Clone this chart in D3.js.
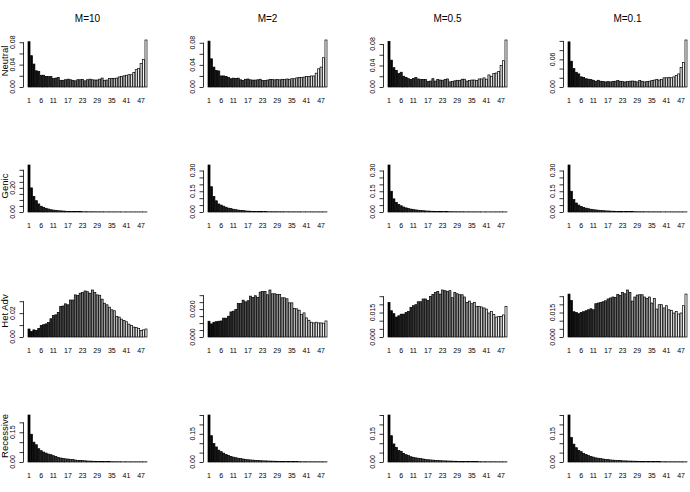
<!DOCTYPE html>
<html>
<head>
<meta charset="utf-8">
<script src="https://cdn.jsdelivr.net/npm/d3@7"></script>
<style>
body { margin: 0; background: #fff; }
text { font-family: "Liberation Sans", Arial, sans-serif; fill: #000; }
</style>
</head>
<body>
<div class="content"></div>
<script>
// column titles and row labels
const migration = ['M=10', 'M=2', 'M=0.5', 'M=0.1']
const models = ['Neutral', 'Genic', 'Het Adv', 'Recessive']
const xLabels = [1, 6, 11, 17, 23, 29, 35, 41, 47]

// site frequency spectra, 49 bins each
const neutral10 = [0.081,0.056,0.041,0.029,0.028,0.021,0.021,0.019,0.0185,0.0185,0.015,0.016,0.017,0.012,0.012,0.013,0.014,0.013,0.012,0.011,0.013,0.013,0.0135,0.011,0.013,0.014,0.013,0.0125,0.0125,0.014,0.016,0.012,0.0125,0.015,0.0155,0.0155,0.016,0.018,0.019,0.020,0.021,0.022,0.022,0.026,0.031,0.033,0.042,0.049,0.084]
const neutral2 = [0.083,0.051,0.036,0.030,0.029,0.020,0.020,0.019,0.0175,0.015,0.016,0.0155,0.016,0.013,0.012,0.014,0.0145,0.013,0.0125,0.0125,0.013,0.014,0.012,0.0115,0.0125,0.0135,0.0135,0.013,0.0135,0.013,0.014,0.0135,0.0145,0.014,0.015,0.015,0.0165,0.017,0.0175,0.018,0.019,0.019,0.020,0.020,0.025,0.033,0.036,0.053,0.085]
const neutral05 = [0.085,0.050,0.036,0.031,0.025,0.0275,0.020,0.018,0.0155,0.014,0.016,0.0175,0.015,0.014,0.014,0.014,0.010,0.011,0.0155,0.011,0.014,0.013,0.0125,0.014,0.015,0.0095,0.010,0.0115,0.0125,0.012,0.0145,0.0145,0.011,0.012,0.013,0.013,0.012,0.015,0.015,0.017,0.0145,0.0225,0.020,0.025,0.026,0.029,0.040,0.049,0.0875]
const neutral01 = [0.098,0.056,0.040,0.032,0.0285,0.022,0.021,0.018,0.017,0.016,0.0146,0.0125,0.0146,0.0125,0.0117,0.011,0.0117,0.011,0.0117,0.0125,0.0139,0.0125,0.0117,0.011,0.0117,0.0125,0.013,0.0125,0.011,0.0139,0.0125,0.011,0.0117,0.0125,0.0139,0.015,0.016,0.015,0.016,0.020,0.020,0.021,0.020,0.022,0.025,0.0285,0.042,0.053,0.102]

const genic10 = [0.39,0.20,0.13,0.094,0.067,0.048,0.039,0.031,0.025,0.019,0.016,0.014,0.011,0.0095,0.008,0.0065,0.0055,0.0048,0.0042,0.0037,0.0033,0.003,0.0027,0.0024,0.0022,0.002,0.0018,0.0017,0.0016,0.0015,0.0014,0.0013,0.0012,0.0012,0.0011,0.0011,0.001,0.001,0.0009,0.0009,0.0009,0.0008,0.0008,0.0008,0.0008,0.0007,0.0007,0.0007,0.0007]
const genic2 = [0.34,0.183,0.112,0.081,0.058,0.05,0.042,0.035,0.028,0.025,0.02,0.017,0.014,0.012,0.010,0.008,0.0065,0.0055,0.0048,0.0042,0.0037,0.0033,0.003,0.0027,0.0025,0.0023,0.0021,0.002,0.0019,0.0018,0.0017,0.0016,0.0015,0.0014,0.0014,0.0013,0.0013,0.0012,0.0012,0.0012,0.0011,0.0011,0.0011,0.001,0.001,0.001,0.001,0.001,0.001]
const genic05 = [0.34,0.15,0.095,0.07,0.055,0.045,0.036,0.03,0.025,0.021,0.018,0.015,0.013,0.011,0.0095,0.008,0.007,0.006,0.0052,0.0046,0.004,0.0036,0.0032,0.0029,0.0026,0.0024,0.0022,0.002,0.0019,0.0018,0.0017,0.0016,0.0015,0.0014,0.0013,0.0013,0.0012,0.0012,0.0011,0.0011,0.0011,0.001,0.001,0.001,0.001,0.001,0.001,0.001,0.001]
const genic01 = [0.34,0.15,0.09,0.065,0.05,0.04,0.033,0.028,0.024,0.02,0.017,0.015,0.013,0.011,0.0095,0.0085,0.0075,0.0065,0.0058,0.005,0.0045,0.004,0.0036,0.0033,0.003,0.0028,0.0026,0.0024,0.0022,0.002,0.0019,0.0018,0.0017,0.0016,0.0015,0.0014,0.0014,0.0013,0.0013,0.0012,0.0012,0.0012,0.0011,0.0011,0.0011,0.0011,0.001,0.001,0.001]

const hetadv10 = [0.0067,0.0047,0.006,0.0055,0.0072,0.0097,0.0103,0.011,0.0122,0.0153,0.018,0.0186,0.0206,0.0256,0.026,0.0278,0.027,0.031,0.031,0.0353,0.0347,0.0367,0.0372,0.0386,0.038,0.0367,0.0394,0.0372,0.0353,0.035,0.0317,0.0283,0.027,0.025,0.0228,0.022,0.0172,0.0167,0.015,0.0139,0.0128,0.0108,0.0097,0.0083,0.008,0.0072,0.0055,0.006,0.0067]
const hetadv2 = [0.0113,0.0094,0.0106,0.011,0.0113,0.0115,0.0135,0.0135,0.0149,0.018,0.0185,0.0197,0.024,0.024,0.0264,0.0252,0.026,0.0293,0.0284,0.0296,0.0284,0.0322,0.0327,0.0327,0.0303,0.0337,0.031,0.031,0.0305,0.0305,0.0281,0.0281,0.0274,0.0245,0.0245,0.0204,0.0202,0.0192,0.0161,0.0173,0.0137,0.012,0.0106,0.0101,0.0106,0.0101,0.0101,0.0099,0.0115]
const hetadv05 = [0.0212,0.0161,0.0143,0.0122,0.013,0.014,0.014,0.015,0.0157,0.0182,0.0192,0.0198,0.0216,0.0216,0.0233,0.0233,0.0224,0.0249,0.0261,0.0273,0.0278,0.0263,0.0288,0.0284,0.0278,0.0284,0.0241,0.0273,0.0265,0.0259,0.0259,0.0245,0.0212,0.022,0.0204,0.0212,0.0188,0.0188,0.0184,0.0178,0.0171,0.0147,0.0157,0.0137,0.0122,0.0126,0.0126,0.0135,0.0188]
const hetadv01 = [0.0263,0.0224,0.0155,0.015,0.0143,0.015,0.0155,0.0161,0.0167,0.0173,0.0167,0.0204,0.0208,0.0212,0.0216,0.0222,0.0233,0.0239,0.0245,0.0243,0.0261,0.0255,0.0273,0.0265,0.0288,0.0273,0.022,0.0245,0.0257,0.0259,0.0259,0.0245,0.0237,0.0245,0.0208,0.0235,0.0171,0.0198,0.0198,0.0178,0.0192,0.0167,0.0163,0.0147,0.0157,0.0141,0.0147,0.0192,0.0263]

const recessive10 = [0.237,0.14,0.10,0.087,0.067,0.057,0.05,0.045,0.04,0.037,0.032,0.028,0.023,0.02,0.018,0.016,0.015,0.013,0.012,0.01,0.008,0.008,0.007,0.006,0.005,0.0045,0.004,0.0035,0.003,0.0027,0.0024,0.0022,0.002,0.0018,0.0017,0.0016,0.0015,0.0014,0.0013,0.0012,0.0012,0.0011,0.0011,0.001,0.001,0.001,0.001,0.001,0.001]
const recessive2 = [0.25,0.14,0.098,0.08,0.063,0.055,0.047,0.04,0.035,0.03,0.026,0.023,0.02,0.018,0.016,0.014,0.012,0.011,0.01,0.009,0.008,0.007,0.0065,0.006,0.0055,0.005,0.0045,0.004,0.0037,0.0034,0.0031,0.0028,0.0026,0.0024,0.0022,0.002,0.0019,0.0018,0.0017,0.0016,0.0015,0.0014,0.0014,0.0013,0.0013,0.0012,0.0012,0.0012,0.0011]
const recessive05 = [0.25,0.14,0.096,0.078,0.061,0.057,0.046,0.039,0.034,0.028,0.025,0.022,0.02,0.018,0.016,0.014,0.012,0.011,0.01,0.009,0.008,0.007,0.0065,0.006,0.0055,0.005,0.0045,0.004,0.0037,0.0034,0.0031,0.0028,0.0026,0.0024,0.0022,0.002,0.0019,0.0018,0.0017,0.0016,0.0015,0.0014,0.0014,0.0013,0.0013,0.0012,0.0012,0.0012,0.0011]
const recessive01 = [0.25,0.13,0.095,0.076,0.062,0.055,0.046,0.04,0.034,0.029,0.026,0.022,0.02,0.018,0.016,0.014,0.013,0.011,0.01,0.009,0.008,0.0072,0.0065,0.006,0.0055,0.005,0.0046,0.0042,0.0038,0.0035,0.0032,0.0029,0.0027,0.0025,0.0023,0.0021,0.002,0.0019,0.0018,0.0017,0.0016,0.0015,0.0015,0.0014,0.0014,0.0013,0.0013,0.0012,0.0012]

// y axis tick spacing and the tick labels R kept (rows = model, cols = M)
const yStep = [
    [0.02, 0.02, 0.02, 0.02],
    [0.05, 0.05, 0.05, 0.05],
    [0.01, 0.005, 0.005, 0.005],
    [0.05, 0.05, 0.05, 0.05]]
const yLabels = [
    [['0.00','0.04','0.08'], ['0.00','0.04','0.08'], ['0.00','0.04','0.08'], ['0.00','0.06']],
    [['0.00','0.20'], ['0.00','0.15','0.30'], ['0.00','0.15','0.30'], ['0.00','0.15','0.30']],
    [['0.00','0.02'], ['0.000','0.020'], ['0.000','0.015'], ['0.000','0.015']],
    [['0.00','0.15'], ['0.00','0.15'], ['0.00','0.15'], ['0.00','0.15']]]

const spectra = [
    [neutral10, neutral2, neutral05, neutral01],
    [genic10, genic2, genic05, genic01],
    [hetadv10, hetadv2, hetadv05, hetadv01],
    [recessive10, recessive2, recessive05, recessive01]]

// layout
const width = 690
const height = 492
const colLeft = 28      // left edge of first bar, column 1
const colStep = 180
const barsWidth = 119
const rowBase = 87      // y of zero, row 1
const rowStep = 125
const barsHeight = 47

const svg = d3.select('div.content')
    .append('svg')
    .attr('width', width)
    .attr('height', height)

const bins = d3.range(1, 50)
const grey = d3.scaleLinear()
    .domain([1, 49])
    .range(['#000000', '#ffffff'])

for (let r = 0; r < 4; r++) {
    for (let c = 0; c < 4; c++) {
        let values = spectra[r][c]
        let left = colLeft + c * colStep
        let base = rowBase + r * rowStep
        let axisX = left - 4.5

        let x = d3.scaleBand()
            .domain(bins)
            .range([left, left + barsWidth])
            .paddingInner(1 / 6)
            .paddingOuter(0)
        let y = d3.scaleLinear()
            .domain([0, d3.max(values)])
            .range([base, base - barsHeight])

        let g = svg.append('g').attr('class', 'panel')

        g.selectAll('rect')
            .data(values)
            .join('rect')
            .attr('x', (d, i) => x(bins[i]))
            .attr('y', d => y(d))
            .attr('width', x.bandwidth())
            .attr('height', d => base - y(d))
            .attr('fill', (d, i) => grey(bins[i]))
            .attr('stroke', 'black')
            .attr('stroke-width', 0.7)

        // y axis, line only from first to last tick like base R
        let ticks = d3.range(0, d3.max(values) + 1e-9, yStep[r][c])
        let axis = g.append('g')
            .attr('transform', `translate(${axisX},0)`)
            .call(d3.axisLeft(y).tickValues(ticks).tickSize(4).tickSizeOuter(0).tickFormat(''))
        axis.select('.domain')
            .attr('d', `M0,${y(0)}V${y(ticks[ticks.length - 1])}`)
        axis.selectAll('line, path').attr('stroke', 'black').attr('stroke-width', 0.8)

        g.selectAll('text.ylab')
            .data(yLabels[r][c])
            .join('text')
            .attr('class', 'ylab')
            .attr('transform', d => `translate(${axisX - 9},${y(+d)}) rotate(-90)`)
            .attr('text-anchor', 'middle')
            .style('font-size', '7px')
            .text(d => d)

        g.selectAll('text.xlab')
            .data(xLabels)
            .join('text')
            .attr('class', 'xlab')
            .attr('x', d => x(d) + x.bandwidth() / 2)
            .attr('y', base + 16)
            .attr('text-anchor', 'middle')
            .style('font-size', '7px')
            .text(d => d)

        if (r === 0) {
            g.append('text')
                .attr('x', axisX + 64)
                .attr('y', 22)
                .attr('text-anchor', 'middle')
                .style('font-size', '10px')
                .text(migration[c])
        }
        if (c === 0) {
            // row label hugs the left edge
            g.append('text')
                .attr('transform', `translate(8,${base - 26}) rotate(-90)`)
                .attr('text-anchor', 'middle')
                .style('font-size', '9.5px')
                .text(models[r])
        }
    }
}
</script>
</body>
</html>
